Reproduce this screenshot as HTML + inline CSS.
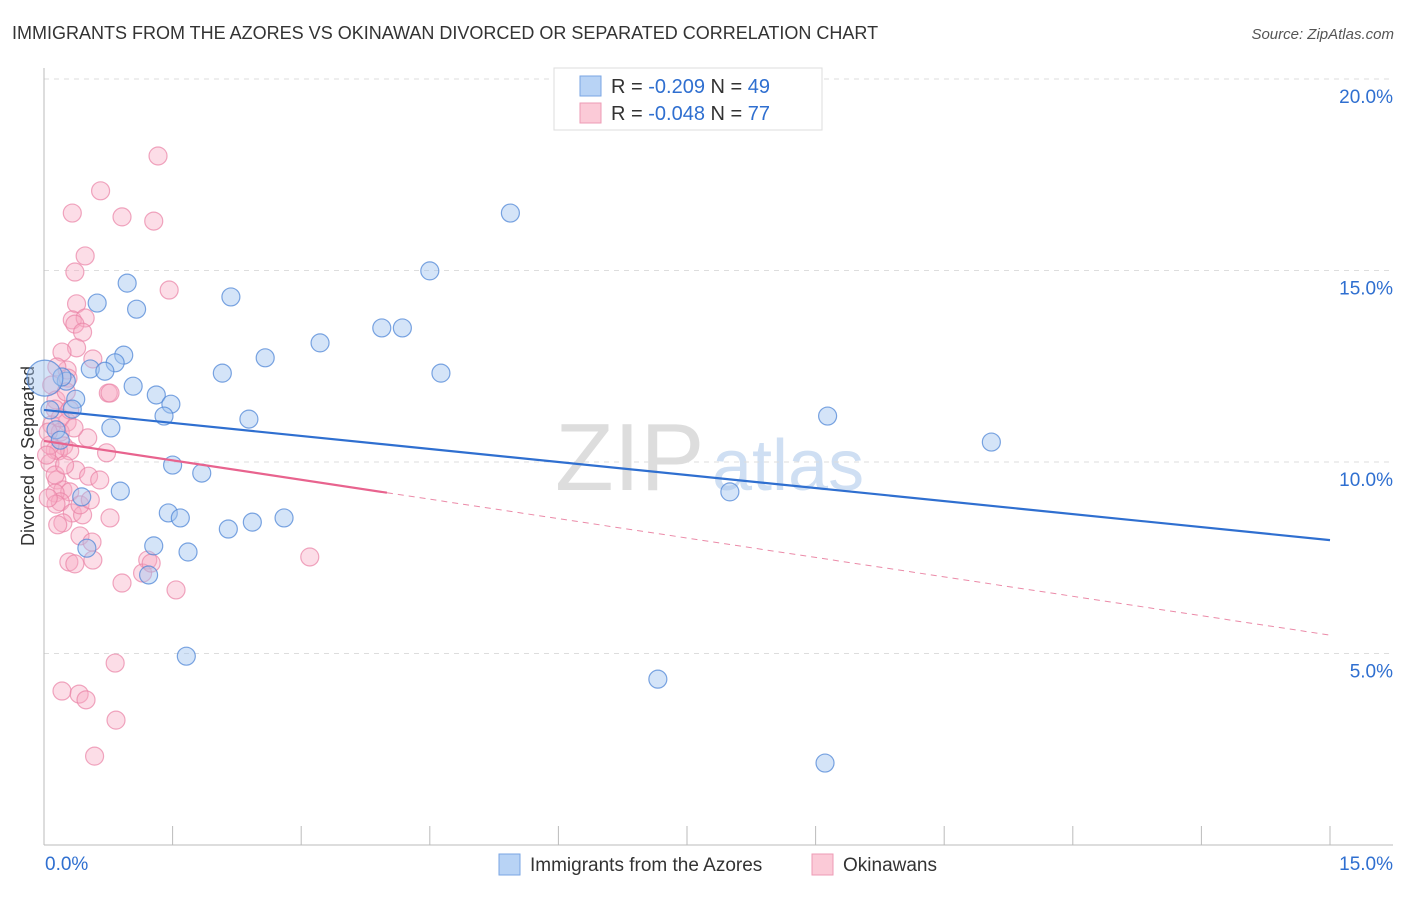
<!DOCTYPE html>
<html><head><meta charset="utf-8"><style>
body{margin:0;background:#fff;font-family:"Liberation Sans",sans-serif}
svg text{font-family:"Liberation Sans",sans-serif}
</style></head><body>
<svg id="chart" width="1406" height="892" xmlns="http://www.w3.org/2000/svg">
<text x="12" y="39" font-size="18" fill="#333">IMMIGRANTS FROM THE AZORES VS OKINAWAN DIVORCED OR SEPARATED CORRELATION CHART</text>
<text x="1394" y="39" font-size="15" fill="#555" text-anchor="end" font-style="italic">Source: ZipAtlas.com</text>
<text transform="translate(34,456) rotate(-90)" font-size="18" fill="#333" text-anchor="middle">Divorced or Separated</text>
<g><text x="555" y="490" font-size="96" fill="#ddd" font-family="Liberation Serif">ZIP</text><text x="712" y="490" font-size="72" fill="#cfdff3">atlas</text></g>
<g id="grid"></g><g id="marks"></g><g id="trends"></g>
<g>
<rect x="554" y="68" width="268" height="62" fill="#fff" stroke="#ddd"/>
<rect x="580" y="76" width="21" height="20" fill="#b8d3f5" stroke="#7aa6e3"/>
<text x="611" y="93" font-size="20" fill="#333">R = <tspan fill="#2f6fd0">-0.209</tspan>   N = <tspan fill="#2f6fd0">49</tspan></text>
<rect x="580" y="103" width="21" height="20" fill="#fbcad7" stroke="#ee9bb4"/>
<text x="611" y="120" font-size="20" fill="#333">R = <tspan fill="#2f6fd0">-0.048</tspan>   N = <tspan fill="#2f6fd0">77</tspan></text>
</g>
<g>
<rect x="499" y="854" width="21" height="21" fill="#b8d3f5" stroke="#7aa6e3"/>
<text x="530" y="871" font-size="19" fill="#333">Immigrants from the Azores</text>
<rect x="812" y="854" width="21" height="21" fill="#fbcad7" stroke="#ee9bb4"/>
<text x="843" y="871" font-size="19" fill="#333">Okinawans</text>
</g>
</svg>
<script>
const blueX=[5.44,4.50,0.97,0.62,1.08,2.18,3.94,4.18,3.22,0.93,2.58,0.83,0.54,0.71,2.08,4.63,0.26,0.21,1.04,1.31,0.37,1.48,0.33,1.40,2.39,9.14,0.14,0.78,11.05,1.50,1.84,0.89,8.00,0.44,1.45,1.59,2.80,2.15,2.43,1.28,0.50,1.68,1.22,1.66,7.16,9.11,0.01,0.07,0.19];
const blueY=[16.50,14.99,14.67,14.15,13.99,14.31,13.50,13.50,13.11,12.79,12.72,12.59,12.43,12.37,12.32,12.32,12.11,12.22,11.98,11.75,11.64,11.51,11.38,11.20,11.12,11.20,10.84,10.89,10.52,9.92,9.71,9.24,9.22,9.09,8.67,8.54,8.54,8.25,8.43,7.81,7.75,7.65,7.05,4.93,4.33,2.14,12.19,11.36,10.57];
const pinkX=[1.33,0.66,0.33,0.91,1.28,0.48,0.36,1.46,0.38,0.33,0.48,0.36,0.45,0.38,0.21,0.57,0.27,0.15,0.28,0.75,0.77,0.09,0.14,0.13,0.27,0.09,0.19,0.51,0.23,0.17,0.30,0.13,0.07,0.73,0.37,0.52,0.15,0.22,0.30,0.13,0.19,0.14,0.77,0.33,0.45,0.22,0.42,0.56,0.29,0.36,0.57,1.21,1.15,1.25,3.10,0.91,1.54,0.83,0.21,0.41,0.49,0.84,0.59,0.07,0.13,0.05,0.26,0.30,0.19,0.03,0.42,0.54,0.65,0.35,0.24,0.05,0.16];
const pinkY=[17.99,17.08,16.50,16.40,16.29,15.38,14.96,14.49,14.13,13.71,13.76,13.60,13.39,12.98,12.87,12.69,12.40,12.48,12.19,11.80,11.80,12.01,11.62,11.38,11.04,10.97,10.78,10.63,10.42,10.29,10.29,10.31,10.44,10.24,9.79,9.63,9.53,9.27,9.22,9.19,8.96,8.90,8.54,8.67,8.62,8.41,8.07,7.91,7.39,7.34,7.44,7.44,7.10,7.36,7.52,6.84,6.66,4.75,4.02,3.94,3.79,3.26,2.32,9.97,9.66,10.78,11.83,11.36,11.15,10.18,8.88,9.01,9.53,10.89,9.92,9.06,8.36];
const blueTrend=[11.36,7.96];
const pinkTrend=[10.55,5.48];
const yTicks=[5,10,15,20];
const yTickLabels=["5.0%","10.0%","15.0%","20.0%"];
const xTickLabels=["0.0%","15.0%"];
const NS="http://www.w3.org/2000/svg";
const X0=44,X1=1330,Y0=845,PY=38.3;
const sx=v=>X0+(v/15)*(X1-X0);
const sy=v=>Y0-v*PY;
function mk(t,a,p){const e=document.createElementNS(NS,t);for(const k in a)e.setAttribute(k,a[k]);p.appendChild(e);return e;}
const grid=document.getElementById('grid');
yTicks.forEach((t,i)=>{
 const l=mk('line',{x1:X0,x2:1393,y1:sy(t),y2:sy(t),stroke:'#ddd','stroke-dasharray':'5,5'},grid);
 
 
 const tx=mk('text',{x:1393,y:sy(t)+24,'font-size':19,fill:'#2f6fd0','text-anchor':'end'},grid);
 tx.textContent=yTickLabels[i];
 
 
});
const ax=mk('line',{x1:X0,x2:X0,y1:68,y2:Y0,stroke:'#bbb'},grid);


const bx=mk('line',{x1:X0,x2:1393,y1:Y0,y2:Y0,stroke:'#bbb'},grid);


for(let i=0;i<=10;i++){const v=i*1.5;
 const t=mk('line',{x1:sx(v),x2:sx(v),y1:826,y2:Y0,stroke:'#bbb'},grid);
 
 
}
[[0,'start',45],[15,'end',1393]].forEach((d,i)=>{
 const t=mk('text',{x:d[2],y:870,'font-size':19,fill:'#2f6fd0','text-anchor':d[1]},grid);
 t.textContent=xTickLabels[i];
 
 
});
const marks=document.getElementById('marks');
pinkX.forEach((x,i)=>{
 const c=mk('circle',{cx:sx(x),cy:sy(pinkY[i]),r:9,fill:'rgba(247,170,195,0.4)',stroke:'rgba(233,130,165,0.7)','stroke-width':1.2},marks);
 
 
});
blueX.forEach((x,i)=>{
 const c=mk('circle',{cx:sx(x),cy:sy(blueY[i]),r:i==46?18:9,fill:'rgba(160,195,240,0.45)',stroke:'rgba(80,135,215,0.75)','stroke-width':1.2},marks);
 
 
});
const tr=document.getElementById('trends');
const bl=mk('line',{x1:sx(0),y1:sy(blueTrend[0]),x2:sx(15),y2:sy(blueTrend[1]),stroke:'#2f6fd0','stroke-width':2.2},tr);


const pe=v=>pinkTrend[0]+(pinkTrend[1]-pinkTrend[0])*v/15;
const ps=mk('line',{x1:sx(0),y1:sy(pe(0)),x2:sx(4),y2:sy(pe(4)),stroke:'#e8638e','stroke-width':2.2},tr);


const pd=mk('line',{x1:sx(4),y1:sy(pe(4)),x2:sx(15),y2:sy(pe(15)),stroke:'#eb8aa8','stroke-width':1,'stroke-dasharray':'6,5'},tr);


</script>
</body></html>
